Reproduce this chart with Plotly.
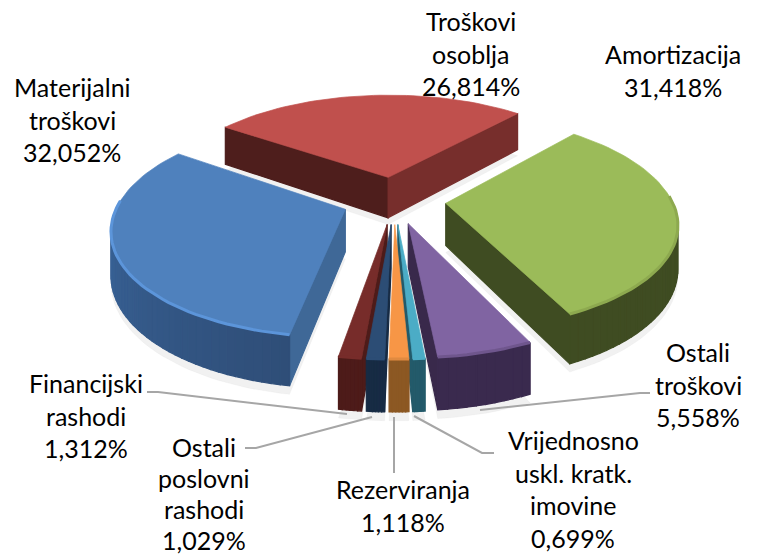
import math
import plotly.graph_objects as go

# ---- data (clockwise from the start angle) ----
categories = ["Troškovi osoblja", "Amortizacija", "Ostali troškovi",
              "Vrijednosno uskl. kratk. imovine", "Rezerviranja",
              "Ostali poslovni rashodi", "Financijski rashodi",
              "Materijalni troškovi"]
values = [26.814, 31.418, 5.558, 0.699, 1.118, 1.029, 1.312, 32.052]
label_lines = [["Troškovi", "osoblja"], ["Amortizacija"], ["Ostali", "troškovi"],
               ["Vrijednosno", "uskl. kratk.", "imovine"], ["Rezerviranja"],
               ["Ostali", "poslovni", "rashodi"], ["Financijski", "rashodi"],
               ["Materijalni", "troškovi"]]
top_colors = ["#C0504D", "#9BBB59", "#8064A2", "#4BACC6", "#F79646", "#2C4D75", "#772C2A", "#4F81BD"]
wall_colors = ["#772E2C", "#3F4C22", "#3A2A4E", "#235A6A", "#8C5823", "#172B44", "#4D1B19", "#34557F"]
face_colors = ["#4E1E1C", "#3F4C22", "#39294B", "#235A6A", "#8C5823", "#172B44", "#4D1B19", "#3F6897"]
bevel_colors = ["#C0504D", "#8DA94F", "#6F568D", "#4BACC6", "#E08A40", "#2C4D75", "#772C2A", "#5C95DA"]

# ---- style / layout ----
CX, CY = 394, 200
R, E = 226, 52            # radius, explosion
K, D = 0.455, 1355        # vertical squash, perspective distance
H = 42                    # wall height
START = -55.0             # start angle of first slice
label_pos = [(471, 21), (673, 54), (698, 352), (573, 440), (403, 489), (204, 447), (86, 383), (72, 87)]
line_heights = [32.5, 32.5, 32.5, 32.5, 32.5, 31, 32.5, 32.5]
leaders = [
    ([147, 158, 347], [392, 392, 414]),
    ([245, 256, 372], [448, 448, 417]),
    ([394, 394], [417, 473]),
    ([414, 482, 494], [416, 453, 453]),
    ([480, 640, 650], [410, 393, 393]),
]


def project(x, y, z=0.0):
    w = 1 / (1 - y / D)
    return CX + x * w, CY + K * y * w + z * w


def poly(fig, pts, color, line=None, width=1.2):
    fig.add_trace(go.Scatter(
        x=[p[0] for p in pts] + [pts[0][0]], y=[p[1] for p in pts] + [pts[0][1]],
        mode="lines", fill="toself", fillcolor=color,
        line=dict(color=line or color, width=width), hoverinfo="skip", showlegend=False))


def cross(a, b, c):
    return (b[0] - a[0]) * (c[1] - a[1]) - (b[1] - a[1]) * (c[0] - a[0])


def mix(c1, c2, t):
    a = [int(c1[i:i + 2], 16) for i in (1, 3, 5)]
    b = [int(c2[i:i + 2], 16) for i in (1, 3, 5)]
    return "#%02x%02x%02x" % tuple(round(a[i] + (b[i] - a[i]) * t) for i in range(3))


fig = go.Figure()
total = sum(values)
spans, ang = [], START
for v in values:
    s = 360 * v / total
    spans.append((ang, ang + s))
    ang += s

slices = []
for i, (a0, a1) in enumerate(spans):
    mid = math.radians((a0 + a1) / 2)
    ox, oy = E * math.sin(mid), -E * math.cos(mid)
    n = max(6, int((a1 - a0) / 2))
    ring = []
    for j in range(n + 1):
        t = math.radians(a0 + (a1 - a0) * j / n)
        ring.append((ox + R * math.sin(t), oy - R * math.cos(t)))
    slices.append(((ox, oy), ring))

# soft shadow beneath
for (o, ring) in slices:
    pts = [project(o[0], o[1], H + 7)] + [project(x, y, H + 7) for x, y in ring]
    poly(fig, pts, "rgba(120,120,120,0.10)", "rgba(120,120,120,0.06)", 0.7)

order = [0, 7, 1, 2, 6, 3, 5, 4]
for i in order:
    o, ring = slices[i]
    apex = project(*o)
    top = [project(x, y) for x, y in ring]
    interior = top[len(top) // 2]
    # radial faces
    for edge in (top[0], top[-1]):
        c1 = cross(apex, edge, interior)
        c2 = cross(apex, edge, (apex[0], apex[1] + 100))
        if c1 * c2 < 0:
            a_low = project(o[0], o[1], H)
            e_pt = ring[0] if edge is top[0] else ring[-1]
            e_low = project(e_pt[0], e_pt[1], H)
            color = face_colors[i] if edge[0] < apex[0] else wall_colors[i] if i == 0 else face_colors[i]
            poly(fig, [apex, edge, e_low, a_low], color)
    # outer wall, segment by segment so that it can shade
    for j in range(len(ring) - 1):
        a, b = top[j], top[j + 1]
        if cross(a, b, apex) * cross(a, b, (a[0], a[1] + 100)) < 0:
            la = project(ring[j][0], ring[j][1], H)
            lb = project(ring[j + 1][0], ring[j + 1][1], H)
            c = wall_colors[i]
            if i == 7:
                c = mix("#3E6EA8", "#2F4E78", 1 - j / (len(ring) - 2))
            poly(fig, [a, b, lb, la], c)
    poly(fig, [apex] + top, top_colors[i], width=0.7)
    # rim bevel
    vis = [p for j, p in enumerate(top) if math.cos(math.atan2(ring[j][0] - o[0], -(ring[j][1] - o[1]))) < 0.1]
    if len(vis) > 1:
        fig.add_trace(go.Scatter(x=[p[0] for p in vis], y=[p[1] for p in vis], mode="lines",
                                 line=dict(color=bevel_colors[i], width=3), hoverinfo="skip", showlegend=False))

for xs, ys in leaders:
    fig.add_trace(go.Scatter(x=xs, y=ys, mode="lines", line=dict(color="#A6A6A6", width=2),
                             hoverinfo="skip", showlegend=False))

annotations = []
for i, lines in enumerate(label_lines):
    x, y = label_pos[i]
    texts = lines + [f"{values[i]:.3f}%".replace(".", ",")]
    for j, t in enumerate(texts):
        annotations.append(dict(x=x, y=y + j * line_heights[i], text=t, showarrow=False, xanchor="center",
                                yanchor="middle", xref="x", yref="y",
                                font=dict(family="Lato", size=25, color="#000000")))

fig.update_layout(
    width=758, height=555, margin=dict(l=0, r=0, t=0, b=0), showlegend=False,
    paper_bgcolor="white", plot_bgcolor="white", annotations=annotations,
    xaxis=dict(range=[0, 758], visible=False, fixedrange=True),
    yaxis=dict(range=[555, 0], visible=False, fixedrange=True),
)
fig.write_html("out.html", config={"displayModeBar": False},
               post_script="document.body.style.margin='0';document.body.style.overflow='hidden';")
